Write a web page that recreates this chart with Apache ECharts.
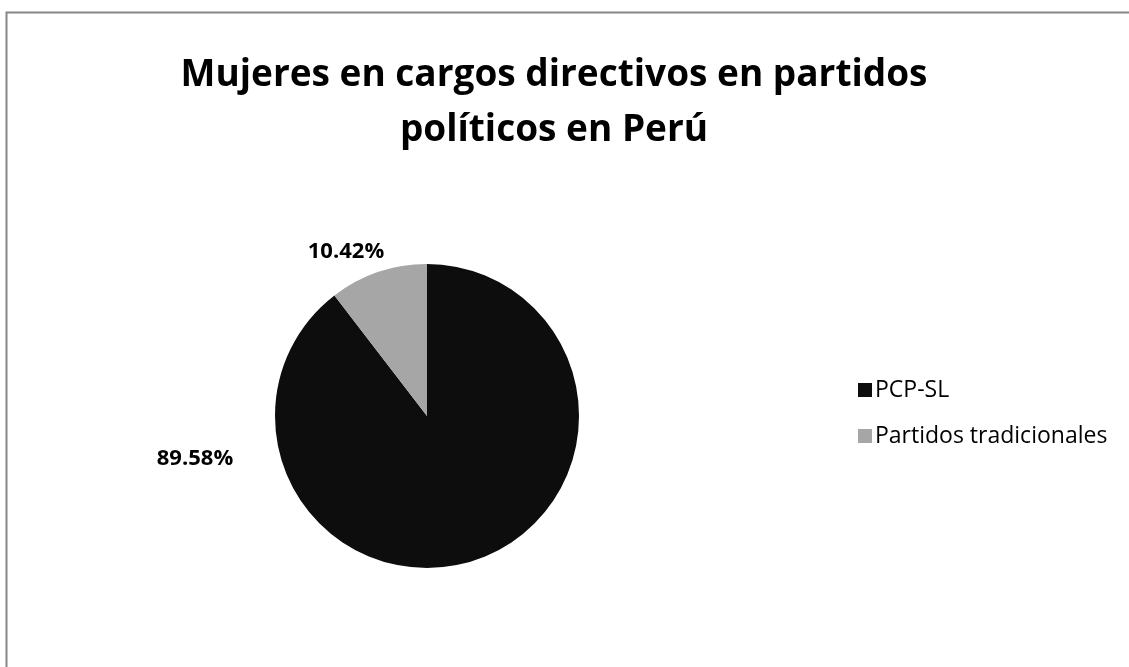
<!DOCTYPE html>
<html>
<head>
<meta charset="utf-8">
<script src="https://cdn.jsdelivr.net/npm/echarts@6/dist/echarts.min.js"></script>
<style>
html,body{margin:0;padding:0;background:#fff;}
#main{width:1129px;height:667px;}
</style>
</head>
<body>
<div id="main"></div>
<script>
const titleLines = ['Mujeres en cargos directivos en partidos', 'políticos en Perú'];
const categories = ['PCP-SL', 'Partidos tradicionales'];
const values = [89.58, 10.42];
const colors = ['#0d0d0d', '#a6a6a6'];
const labelSpots = [[195, 459], [346, 252]];

const chart = echarts.init(document.getElementById('main'));
const FONT = '"Open Sans", Lato, sans-serif';
chart.setOption({
  animation: false,
  backgroundColor: '#fff',
  graphic: [{
    type: 'rect',
    shape: {x: 6.5, y: 12.5, width: 1200, height: 700},
    style: {fill: 'none', stroke: '#868686', lineWidth: 2},
    silent: true
  }],
  title: {
    text: titleLines.join('\n'),
    left: 549,
    top: 43,
    textAlign: 'center',
    textStyle: {fontFamily: FONT, fontWeight: 'bold', fontSize: 37, lineHeight: 55, color: '#000'}
  },
  legend: {
    orient: 'vertical',
    left: 853,
    top: 373,
    itemWidth: 14,
    itemHeight: 14,
    itemGap: 22,
    icon: 'rect',
    textStyle: {fontFamily: FONT, fontSize: 23, lineHeight: 24, color: '#000', padding: [0, 0, 0, -2]},
    data: categories
  },
  series: [{
    type: 'pie',
    center: [427, 416],
    radius: [0, 152],
    startAngle: 90,
    clockwise: true,
    data: categories.map((c, i) => ({name: c, value: values[i], itemStyle: {color: colors[i]}})),
    label: {
      show: true,
      position: 'outside',
      formatter: p => p.value.toFixed(2) + '%',
      fontFamily: FONT,
      fontWeight: 'bold',
      fontSize: 22,
      color: '#000'
    },
    labelLine: {show: false},
    labelLayout: p => ({x: labelSpots[p.dataIndex][0], y: labelSpots[p.dataIndex][1], align: 'center', verticalAlign: 'middle'}),
    emphasis: {disabled: true}
  }]
});
</script>
</body>
</html>
